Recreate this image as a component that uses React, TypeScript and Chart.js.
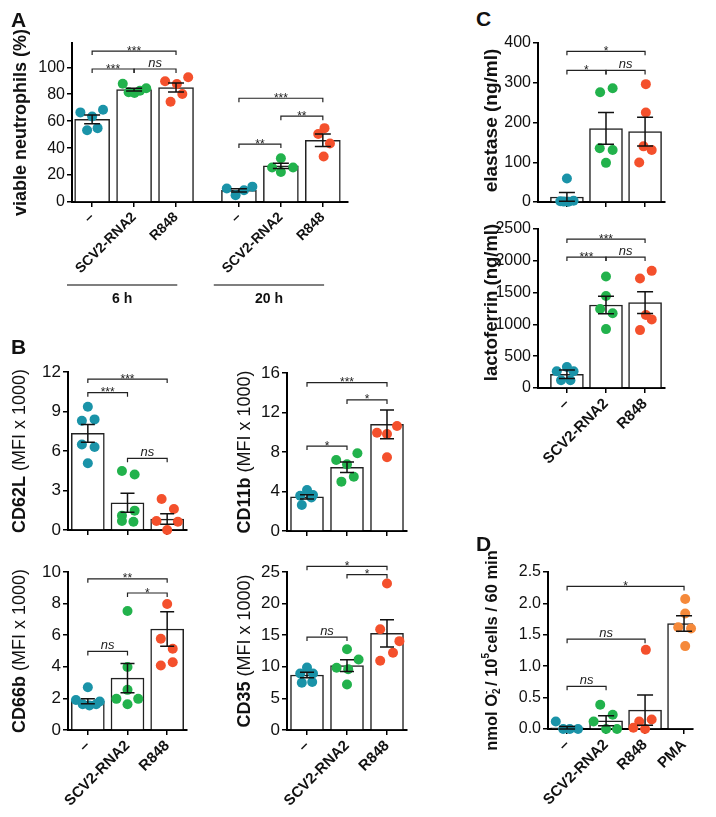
import React, { useEffect, useRef } from 'react';
import { Chart, registerables } from 'chart.js';

Chart.register(...registerables);

const FONT = '"Liberation Sans", Arial, sans-serif';
const TEAL = '#1a93a8';
const GREEN = '#22b24c';
const RED = '#f4502c';
const ORANGE = '#f5893a';

// ---------- Panel A : viable neutrophils ----------
const aLabels = ['–', 'SCV2-RNA2', 'R848', '–', 'SCV2-RNA2', 'R848'];
const aPositions = [0, 1, 2, 3.5, 4.5, 5.5];
const aMeans = [61.3, 83.4, 85.0, 8.6, 26.8, 45.8];
const aSem = [3.2, 1.1, 3.4, 1.2, 1.9, 4.6];
const aPoints = [
  [66.5, 63.5, 68.5, 53.3, 54.8],
  [87.8, 81.4, 80.9, 82.6, 84.4],
  [89.6, 87.6, 92.6, 74.4, 80.1],
  [10.0, 5.0, 8.7, 11.4],
  [25.6, 32.5, 22.3, 25.6],
  [50.4, 54.8, 43.4, 33.8],
];
const aJitter = [
  [-0.28, 0, 0.26, -0.12, 0.13],
  [-0.27, -0.13, 0.01, 0.14, 0.29],
  [-0.26, 0.02, 0.29, -0.13, 0.15],
  [-0.29, -0.08, 0.12, 0.32],
  [-0.21, 0, 0, 0.29],
  [-0.11, 0.04, 0.17, 0.02],
];
const aYTicks = [0, 20, 40, 60, 80, 100];
const aBrackets: [number, number, number, string][] = [
  [0, 2, 112, '***'],
  [0, 1, 98.7, '***'],
  [1, 2, 98.7, 'ns'],
  [3, 5, 77, '***'],
  [4, 5, 63.7, '**'],
  [3, 4, 43, '**'],
];
const aGroups: [string, number, number][] = [
  ['6 h', 0, 2],
  ['20 h', 3, 5],
];

// ---------- Panel B : CD62L ----------
const bLabels = ['–', 'SCV2-RNA2', 'R848'];
const bPositions = [0, 1, 2];
const cd62lMeans = [7.34, 2.07, 0.83];
const cd62lSem = [0.67, 0.73, 0.4];
const cd62lPoints = [
  [9.36, 8.3, 8.4, 6.5, 6.3, 5.07],
  [4.48, 4.22, 1.47, 1.09, 0.68, 0.63],
  [2.35, 1.6, 0.68, 0.63, 0.0],
];
const cd62lJitter = [
  [0, -0.15, 0.17, -0.15, 0.17, 0],
  [-0.14, 0.18, 0.18, -0.14, -0.14, 0.15],
  [-0.14, 0.17, -0.27, 0.27, 0],
];
const cd62lYTicks = [0, 3, 6, 9, 12];
const cd62lBrackets: [number, number, number, string][] = [
  [0, 2, 11.46, '***'],
  [0, 1, 10.43, '***'],
  [1, 2, 5.44, 'ns'],
];

// ---------- Panel B : CD11b ----------
const cd11bMeans = [3.45, 6.45, 10.8];
const cd11bSem = [0.22, 0.53, 1.45];
const cd11bPoints = [
  [4.15, 3.57, 3.65, 2.63, 3.4],
  [7.19, 6.75, 7.87, 5.0, 5.5],
  [9.95, 9.82, 10.63, 7.46],
];
const cd11bJitter = [
  [0, -0.17, 0.15, -0.13, 0.11],
  [-0.27, 0, 0.26, -0.14, 0.17],
  [-0.25, 0, 0.25, 0],
];
const cd11bYTicks = [0, 4, 8, 12, 16];
const cd11bBrackets: [number, number, number, string][] = [
  [0, 2, 15.02, '***'],
  [1, 2, 13.27, '*'],
  [0, 1, 8.6, '*'],
];

// ---------- Panel B : CD66b ----------
const cd66bMeans = [1.82, 3.28, 6.39];
const cd66bSem = [0.16, 0.93, 1.09];
const cd66bPoints = [
  [2.71, 1.9, 1.63, 1.55, 1.63, 1.8],
  [7.53, 3.99, 2.54, 1.97, 1.97, 1.63],
  [7.97, 5.77, 5.14, 4.08, 4.29],
];
const cd66bJitter = [
  [0, -0.3, -0.13, 0.04, 0.21, 0.3],
  [0, 0, 0, -0.28, 0.27, 0],
  [0, -0.16, 0.14, -0.16, 0.14],
];
const cd66bYTicks = [0, 2, 4, 6, 8, 10];
const cd66bBrackets: [number, number, number, string][] = [
  [0, 2, 9.57, '**'],
  [1, 2, 8.67, '*'],
  [0, 1, 4.97, 'ns'],
];

// ---------- Panel B : CD35 ----------
const cd35Means = [8.7, 10.2, 15.3];
const cd35Sem = [0.45, 0.93, 2.15];
const cd35Points = [
  [9.9, 8.95, 8.95, 7.47, 7.6],
  [12.79, 11.16, 9.84, 9.63, 7.21],
  [23.17, 15.95, 14.06, 12.21, 10.95],
];
const cd35Jitter = [
  [0, -0.17, 0.15, -0.13, 0.13],
  [0, 0.29, -0.26, 0.03, 0],
  [0, -0.17, 0.31, 0.15, -0.17],
];
const cd35YTicks = [0, 5, 10, 15, 20, 25];
const cd35Brackets: [number, number, number, string][] = [
  [0, 2, 25.9, '*'],
  [1, 2, 24.6, '*'],
  [0, 1, 14.7, 'ns'],
];

// ---------- Panel C : elastase ----------
const elaMeans = [12.6, 185, 177];
const elaSem = [11, 40, 36];
const elaPoints = [
  [59, 2, 0.5, 3, 1],
  [276, 286, 135, 131, 98.5],
  [296.5, 225, 99.5, 130.6, 140],
];
const elaJitter = [
  [0, -0.17, 0.04, 0.17, -0.08],
  [-0.15, 0.17, -0.16, 0.17, 0],
  [0.02, 0.02, -0.15, 0.17, -0.04],
];
const elaYTicks = [0, 100, 200, 300, 400];
const elaBrackets: [number, number, number, string][] = [
  [0, 2, 379, '*'],
  [0, 1, 331, '*'],
  [1, 2, 331, 'ns'],
];

// ---------- Panel C : lactoferrin ----------
const lacMeans = [216, 1305, 1342];
const lacSem = [66, 137, 170];
const lacPoints = [
  [331, 264, 264, 121, 121],
  [1752, 1447, 1242, 1174, 926],
  [1842, 1721, 1147, 1079, 910],
];
const lacJitter = [
  [0, -0.26, 0.17, -0.15, 0.09],
  [0, 0, -0.15, 0.17, 0],
  [0.17, -0.13, 0.02, 0.17, -0.13],
];
const lacYTicks = [0, 500, 1000, 1500, 2000, 2500];
const lacBrackets: [number, number, number, string][] = [
  [0, 2, 2342, '***'],
  [0, 1, 2058, '***'],
  [1, 2, 2058, 'ns'],
];

// ---------- Panel D : superoxide ----------
const dLabels = ['–', 'SCV2-RNA2', 'R848', 'PMA'];
const dPositions = [0, 1, 2, 3];
const dMeans = [0.02, 0.13, 0.3, 1.68];
const dSem = [0.02, 0.08, 0.24, 0.125];
const dPoints = [
  [0.12, 0.0, 0.0, 0.0],
  [0.385, 0.227, 0.12, 0.0, 0.0],
  [1.26, 0.12, 0.15, 0.0, 0.02],
  [2.07, 1.84, 1.62, 1.6, 1.32],
];
const dJitter = [
  [-0.29, -0.1, 0.07, 0.28],
  [-0.15, 0.17, -0.32, 0, 0.28],
  [0.02, -0.15, 0.17, 0, -0.3],
  [0.03, 0.03, -0.15, 0.18, 0.03],
];
const dYTicks = [0, 0.5, 1.0, 1.5, 2.0, 2.5];
const dBrackets: [number, number, number, string][] = [
  [0, 3, 2.27, '*'],
  [0, 2, 1.43, 'ns'],
  [0, 1, 0.68, 'ns'],
];

type Seg = { t: string; bold?: boolean; small?: 'sub' | 'sup'; stay?: boolean };

type PanelCfg = {
  box: [number, number, number, number];
  plot: [number, number, number, number];
  yW: number;
  xMin: number;
  xMax: number;
  yMin: number;
  yMax: number;
  yTicks: number[];
  yDecimals?: number;
  tickSize: number;
  labelSize: number;
  positions: number[];
  labels: string[] | null;
  means: number[];
  sem: number[];
  points: number[][];
  jitter: number[][];
  colors: string[];
  barW: number;
  capW: number;
  brackets: [number, number, number, string][];
  title: Seg[];
  titleX: number;
  titleDy?: number;
  titleSize: number;
  groups?: [string, number, number][];
  groupY?: number;
};

function Panel({ cfg }: { cfg: PanelCfg }) {
  const ref = useRef<HTMLCanvasElement | null>(null);
  useEffect(() => {
    if (!ref.current) return;
    const [l, t, w, h] = cfg.box;
    const [x0, y0, x1, y1] = cfg.plot;
    const padLeft = x0 - l - cfg.yW;
    const padTop = y0 - t;
    const padRight = l + w - x1;
    const xH = t + h - y1;

    const gridOpts = {
      display: true,
      drawOnChartArea: false,
      drawTicks: true,
      tickLength: 5,
      color: '#000',
      lineWidth: 1.5,
      offset: false,
    };
    const borderOpts = { display: true, color: '#000', width: 2 };

    const extras = {
      id: 'extras',
      afterDatasetsDraw(chart: any) {
        const ctx = chart.ctx as CanvasRenderingContext2D;
        const xs = chart.scales.x;
        const ys = chart.scales.y;
        ctx.save();
        // error bars
        ctx.strokeStyle = '#111';
        ctx.lineWidth = 1.5;
        cfg.means.forEach((m, i) => {
          const x = xs.getPixelForValue(cfg.positions[i]);
          const yt = ys.getPixelForValue(m + cfg.sem[i]);
          const yb = ys.getPixelForValue(Math.max(cfg.yMin, m - cfg.sem[i]));
          ctx.beginPath();
          ctx.moveTo(x, yt);
          ctx.lineTo(x, yb);
          ctx.moveTo(x - cfg.capW, yt);
          ctx.lineTo(x + cfg.capW, yt);
          ctx.moveTo(x - cfg.capW, yb);
          ctx.lineTo(x + cfg.capW, yb);
          ctx.stroke();
        });
        // brackets
        ctx.lineWidth = 1.2;
        ctx.strokeStyle = '#222';
        ctx.fillStyle = '#222';
        ctx.textAlign = 'center';
        ctx.textBaseline = 'alphabetic';
        cfg.brackets.forEach(([i, j, yv, lab]) => {
          const xa = xs.getPixelForValue(cfg.positions[i]);
          const xb = xs.getPixelForValue(cfg.positions[j]);
          const yp = ys.getPixelForValue(yv);
          ctx.beginPath();
          ctx.moveTo(xa, yp + 4);
          ctx.lineTo(xa, yp);
          ctx.lineTo(xb, yp);
          ctx.lineTo(xb, yp + 4);
          ctx.stroke();
          if (lab === 'ns') {
            ctx.font = `italic 13px ${FONT}`;
            ctx.fillText(lab, (xa + xb) / 2, yp - 2.5);
          } else {
            ctx.font = `12px ${FONT}`;
            ctx.fillText(lab, (xa + xb) / 2, yp + 3.5);
          }
        });
        ctx.restore();
      },
      afterDraw(chart: any) {
        const ctx = chart.ctx as CanvasRenderingContext2D;
        const ys = chart.scales.y;
        const xs = chart.scales.x;
        ctx.save();
        // y title with mixed segments
        const cy = (ys.top + ys.bottom) / 2 + (cfg.titleDy ?? 0);
        ctx.translate(cfg.titleX, cy);
        ctx.rotate(-Math.PI / 2);
        ctx.textBaseline = 'middle';
        ctx.textAlign = 'left';
        ctx.fillStyle = '#111';
        const fontFor = (s: Seg) => {
          const size = s.small ? Math.round(cfg.titleSize * 0.62) : cfg.titleSize;
          return `${s.bold ? 'bold ' : ''}${size}px ${FONT}`;
        };
        let total = 0;
        cfg.title.forEach((s) => {
          ctx.font = fontFor(s);
          if (!s.stay) total += ctx.measureText(s.t).width;
        });
        let x = -total / 2;
        cfg.title.forEach((s) => {
          ctx.font = fontFor(s);
          const dy = s.small === 'sub' ? cfg.titleSize * 0.3 : s.small === 'sup' ? -cfg.titleSize * 0.35 : 0;
          ctx.fillText(s.t, x, dy);
          if (!s.stay) x += ctx.measureText(s.t).width;
        });
        ctx.restore();

        // group lines (panel A)
        if (cfg.groups && cfg.groupY !== undefined) {
          ctx.save();
          ctx.strokeStyle = '#555';
          ctx.lineWidth = 1.5;
          ctx.fillStyle = '#111';
          ctx.font = `bold 14px ${FONT}`;
          ctx.textAlign = 'center';
          ctx.textBaseline = 'top';
          const gy = cfg.groupY - cfg.box[1];
          cfg.groups.forEach(([lab, first, last]) => {
            const xa = xs.getPixelForValue(cfg.positions[first] - 0.6);
            const xb = xs.getPixelForValue(cfg.positions[last] + 0.03);
            ctx.beginPath();
            ctx.moveTo(xa, gy);
            ctx.lineTo(xb, gy);
            ctx.stroke();
            ctx.fillText(lab, (xa + xb) / 2, gy + 7);
          });
          ctx.restore();
        }
      },
    };

    const datasets: any[] = [
      {
        type: 'bar',
        data: cfg.positions.map((p, i) => ({ x: p, y: cfg.means[i] })),
        backgroundColor: '#fff',
        borderColor: '#222',
        borderWidth: 1.5,
        barThickness: cfg.barW,
        order: 2,
      },
      ...cfg.points.map((arr, g) => ({
        type: 'scatter',
        data: arr.map((v, k) => ({ x: cfg.positions[g] + cfg.jitter[g][k], y: v })),
        backgroundColor: cfg.colors[g],
        borderColor: cfg.colors[g],
        borderWidth: 0,
        pointRadius: 5,
        pointHoverRadius: 5,
        clip: false,
        order: 1,
      })),
    ];

    const chart = new Chart(ref.current, {
      type: 'bar',
      data: { datasets },
      options: {
        responsive: false,
        animation: false,
        events: [],
        layout: { padding: { left: padLeft, top: padTop, right: padRight, bottom: 0 } },
        plugins: { legend: { display: false }, tooltip: { enabled: false } },
        scales: {
          x: {
            type: 'linear',
            min: cfg.xMin,
            max: cfg.xMax,
            offset: false,
            afterBuildTicks: (s: any) => {
              s.ticks = cfg.positions.map((v) => ({ value: v }));
            },
            afterFit: (s: any) => {
              s.height = xH;
            },
            ticks: {
              autoSkip: false,
              maxRotation: 45,
              minRotation: 45,
              padding: 2,
              color: '#111',
              font: { family: FONT, size: cfg.labelSize, weight: 'bold' },
              callback: (_v: any, i: number) => (cfg.labels ? cfg.labels[i] : ''),
            },
            grid: gridOpts,
            border: borderOpts,
          },
          y: {
            type: 'linear',
            min: cfg.yMin,
            max: cfg.yMax,
            afterBuildTicks: (s: any) => {
              s.ticks = cfg.yTicks.map((v) => ({ value: v }));
            },
            afterFit: (s: any) => {
              s.width = cfg.yW;
            },
            ticks: {
              padding: 2,
              color: '#111',
              font: { family: FONT, size: cfg.tickSize },
              callback: (v: any) => Number(v).toFixed(cfg.yDecimals ?? 0),
            },
            grid: gridOpts,
            border: borderOpts,
          },
        },
      } as any,
      plugins: [extras as any],
    });
    return () => chart.destroy();
  }, [cfg]);

  const [l, t, w, h] = cfg.box;
  return (
    <canvas
      ref={ref}
      width={w}
      height={h}
      style={{ position: 'absolute', left: l, top: t, width: w, height: h }}
    />
  );
}

const colors3 = [TEAL, GREEN, RED];
const mfi = (name: string): Seg[] => [{ t: name, bold: true }, { t: ' (MFI x 1000)' }];

const panels: PanelCfg[] = [
  {
    box: [0, 0, 360, 312],
    plot: [72, 43, 348, 202],
    yW: 40,
    xMin: -0.48,
    xMax: 6.1,
    yMin: 0,
    yMax: 118,
    yTicks: aYTicks,
    tickSize: 16,
    labelSize: 14,
    positions: aPositions,
    labels: aLabels,
    means: aMeans,
    sem: aSem,
    points: aPoints,
    jitter: aJitter,
    colors: [TEAL, GREEN, RED, TEAL, GREEN, RED],
    barW: 35,
    capW: 8,
    brackets: aBrackets,
    title: [{ t: 'viable neutrophils (%)', bold: true }],
    titleX: 21,
    titleSize: 18,
    groups: aGroups,
    groupY: 285,
  },
  {
    box: [0, 345, 225, 200],
    plot: [68, 372, 187, 530],
    yW: 36,
    xMin: -0.5,
    xMax: 2.5,
    yMin: 0,
    yMax: 12,
    yTicks: cd62lYTicks,
    tickSize: 17,
    labelSize: 15,
    positions: bPositions,
    labels: null,
    means: cd62lMeans,
    sem: cd62lSem,
    points: cd62lPoints,
    jitter: cd62lJitter,
    colors: colors3,
    barW: 33,
    capW: 7,
    brackets: cd62lBrackets,
    title: mfi('CD62L'),
    titleX: 20,
    titleSize: 18,
  },
  {
    box: [225, 345, 225, 200],
    plot: [287, 373, 407, 531],
    yW: 36,
    xMin: -0.5,
    xMax: 2.5,
    yMin: 0,
    yMax: 16,
    yTicks: cd11bYTicks,
    tickSize: 17,
    labelSize: 15,
    positions: bPositions,
    labels: null,
    means: cd11bMeans,
    sem: cd11bSem,
    points: cd11bPoints,
    jitter: cd11bJitter,
    colors: colors3,
    barW: 33,
    capW: 7,
    brackets: cd11bBrackets,
    title: mfi('CD11b'),
    titleX: 20,
    titleSize: 18,
  },
  {
    box: [0, 548, 225, 269],
    plot: [68, 572, 187, 730],
    yW: 36,
    xMin: -0.5,
    xMax: 2.5,
    yMin: 0,
    yMax: 10,
    yTicks: cd66bYTicks,
    tickSize: 17,
    labelSize: 15,
    positions: bPositions,
    labels: bLabels,
    means: cd66bMeans,
    sem: cd66bSem,
    points: cd66bPoints,
    jitter: cd66bJitter,
    colors: colors3,
    barW: 33,
    capW: 7,
    brackets: cd66bBrackets,
    title: mfi('CD66b'),
    titleX: 20,
    titleSize: 18,
  },
  {
    box: [225, 548, 225, 269],
    plot: [287, 572, 407, 730],
    yW: 36,
    xMin: -0.5,
    xMax: 2.5,
    yMin: 0,
    yMax: 25,
    yTicks: cd35YTicks,
    tickSize: 17,
    labelSize: 15,
    positions: bPositions,
    labels: bLabels,
    means: cd35Means,
    sem: cd35Sem,
    points: cd35Points,
    jitter: cd35Jitter,
    colors: colors3,
    barW: 33,
    capW: 7,
    brackets: cd35Brackets,
    title: mfi('CD35'),
    titleX: 20,
    titleSize: 18,
  },
  {
    box: [460, 30, 256, 185],
    plot: [538, 43, 665, 202],
    yW: 42,
    xMin: -0.74,
    xMax: 2.51,
    yMin: 0,
    yMax: 400,
    yTicks: elaYTicks,
    tickSize: 16,
    labelSize: 15,
    positions: bPositions,
    labels: null,
    means: elaMeans,
    sem: elaSem,
    points: elaPoints,
    jitter: elaJitter,
    colors: colors3,
    barW: 33,
    capW: 8,
    brackets: elaBrackets,
    title: [{ t: 'elastase (ng/ml)', bold: true }],
    titleX: 32,
    titleDy: -2,
    titleSize: 19,
  },
  {
    box: [460, 205, 256, 340],
    plot: [538, 229, 665, 388],
    yW: 46,
    xMin: -0.74,
    xMax: 2.51,
    yMin: 0,
    yMax: 2500,
    yTicks: lacYTicks,
    tickSize: 16,
    labelSize: 15,
    positions: bPositions,
    labels: bLabels,
    means: lacMeans,
    sem: lacSem,
    points: lacPoints,
    jitter: lacJitter,
    colors: colors3,
    barW: 33,
    capW: 8,
    brackets: lacBrackets,
    title: [{ t: 'lactoferrin (ng/ml)', bold: true }],
    titleX: 32,
    titleDy: -6,
    titleSize: 18.5,
  },
  {
    box: [460, 535, 256, 282],
    plot: [548, 572, 693, 729],
    yW: 40,
    xMin: -0.49,
    xMax: 3.23,
    yMin: 0,
    yMax: 2.5,
    yTicks: dYTicks,
    yDecimals: 1,
    tickSize: 16,
    labelSize: 15,
    positions: dPositions,
    labels: dLabels,
    means: dMeans,
    sem: dSem,
    points: dPoints,
    jitter: dJitter,
    colors: [TEAL, GREEN, RED, ORANGE],
    barW: 33,
    capW: 8,
    brackets: dBrackets,
    title: [
      { t: 'nmol O', bold: true },
      { t: '2', bold: true, small: 'sub', stay: true },
      { t: '-', bold: true, small: 'sup' },
      { t: ' / 10', bold: true },
      { t: '5', bold: true, small: 'sup' },
      { t: 'cells / 60 min', bold: true },
    ],
    titleX: 32,
    titleSize: 16.5,
  },
];

const letters: [string, number, number][] = [
  ['A', 11, 9],
  ['B', 11, 336],
  ['C', 476, 8],
  ['D', 476, 533],
];

export default function App() {
  return (
    <div
      style={{
        position: 'absolute',
        left: 0,
        top: 0,
        width: 716,
        height: 817,
        background: '#fff',
        overflow: 'hidden',
      }}
    >
      {panels.map((p, i) => (
        <Panel key={i} cfg={p} />
      ))}
      {letters.map(([s, x, y]) => (
        <div
          key={s}
          style={{
            position: 'absolute',
            left: x,
            top: y,
            fontFamily: FONT,
            fontWeight: 'bold',
            fontSize: 21,
            lineHeight: '21px',
            color: '#111',
          }}
        >
          {s}
        </div>
      ))}
    </div>
  );
}
